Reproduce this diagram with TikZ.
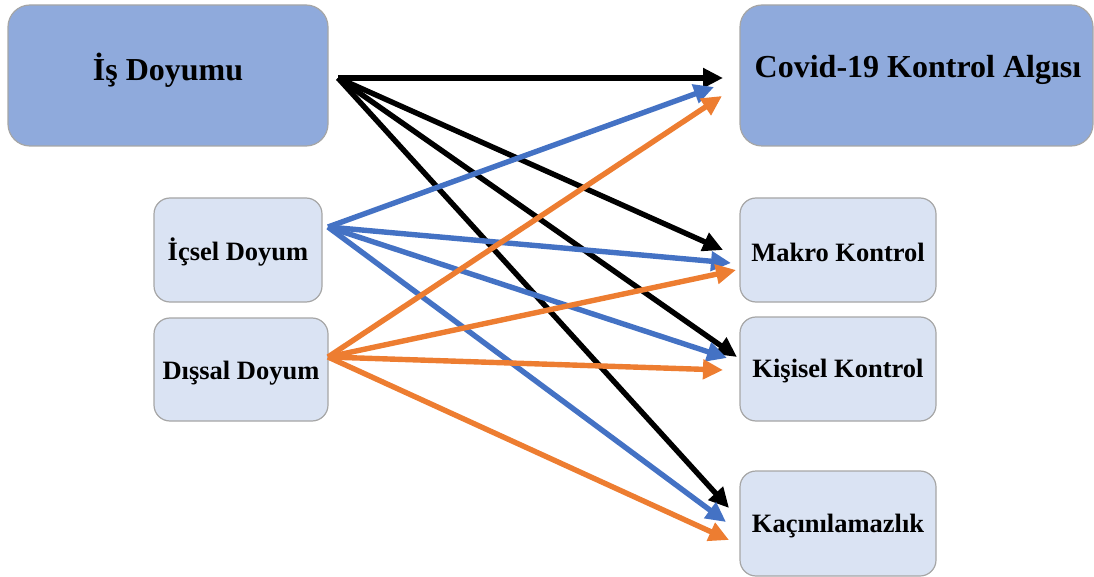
\documentclass[tikz,border=0pt]{standalone}
\usepackage{fontspec}
\setmainfont{Liberation Serif}
\usetikzlibrary{arrows.meta}
\definecolor{darkfill}{HTML}{8FAADC}
\definecolor{lightfill}{HTML}{DAE3F3}
\definecolor{boxline}{HTML}{A6A6A6}
\definecolor{cblue}{HTML}{4472C4}
\definecolor{corange}{HTML}{ED7D31}
\begin{document}
\begin{tikzpicture}[x=1pt,y=-1pt,
  bigbox/.style={draw=boxline,line width=1.2pt,fill=darkfill,rounded corners=22pt},
  smallbox/.style={draw=boxline,line width=1.2pt,fill=lightfill,rounded corners=16pt},
  bigtext/.style={font=\bfseries\fontsize{32}{36}\selectfont},
  smalltext/.style={font=\bfseries\fontsize{26.5}{30}\selectfont},
  link/.style={line width=5.4pt,-{Triangle[length=20pt,width=19pt]}}]
\useasboundingbox (0,0) rectangle (1094,577);
% boxes
\draw[bigbox] (8,5) rectangle (328,146);
\node[bigtext] (is) at (168,70) {İş Doyumu};
\draw[bigbox] (740,5) rectangle (1093,146);
\node[bigtext] (covid) at (918,70) {Covid-19 Kontrol Algısı};
\draw[smallbox] (154,198) rectangle (322,302);
\node[smalltext] (icsel) at (238,252) {İçsel Doyum};
\draw[smallbox] (154,318) rectangle (328,421);
\node[smalltext] (dissal) at (241,373) {Dışsal Doyum};
\draw[smallbox] (740,198) rectangle (936,302);
\node[smalltext] (makro) at (838,252) {Makro Kontrol};
\draw[smallbox] (740,317) rectangle (936,421);
\node[smalltext] (kisisel) at (838,371) {Kişisel Kontrol};
\draw[smallbox] (740,471) rectangle (936,576);
\node[smalltext] (kacin) at (838,526) {Kaçınılamazlık};
% anchor coordinates
\coordinate (isOut) at (338,78);
\coordinate (icOut) at (328,227);
\coordinate (diOut) at (328,357);
\coordinate (cvA) at (723,78);
\coordinate (cvB) at (714,87);
\coordinate (cvC) at (722,96);
\coordinate (mkA) at (723,250);
\coordinate (mkB) at (731,263);
\coordinate (mkC) at (736,270);
\coordinate (ksA) at (737,357);
\coordinate (ksB) at (727,358);
\coordinate (ksC) at (723,370);
\coordinate (kcA) at (729,508);
\coordinate (kcB) at (726,522);
\coordinate (kcC) at (729,540);
% arrows
\draw[link,black] (isOut) -- (cvA);
\draw[link,black] (isOut) -- (mkA);
\draw[link,black] (isOut) -- (ksA);
\draw[link,black] (isOut) -- (kcA);
\draw[link,cblue] (icOut) -- (cvB);
\draw[link,cblue] (icOut) -- (mkB);
\draw[link,cblue] (icOut) -- (ksB);
\draw[link,cblue] (icOut) -- (kcB);
\draw[link,corange] (diOut) -- (cvC);
\draw[link,corange] (diOut) -- (mkC);
\draw[link,corange] (diOut) -- (ksC);
\draw[link,corange] (diOut) -- (kcC);
\end{tikzpicture}
\end{document}
